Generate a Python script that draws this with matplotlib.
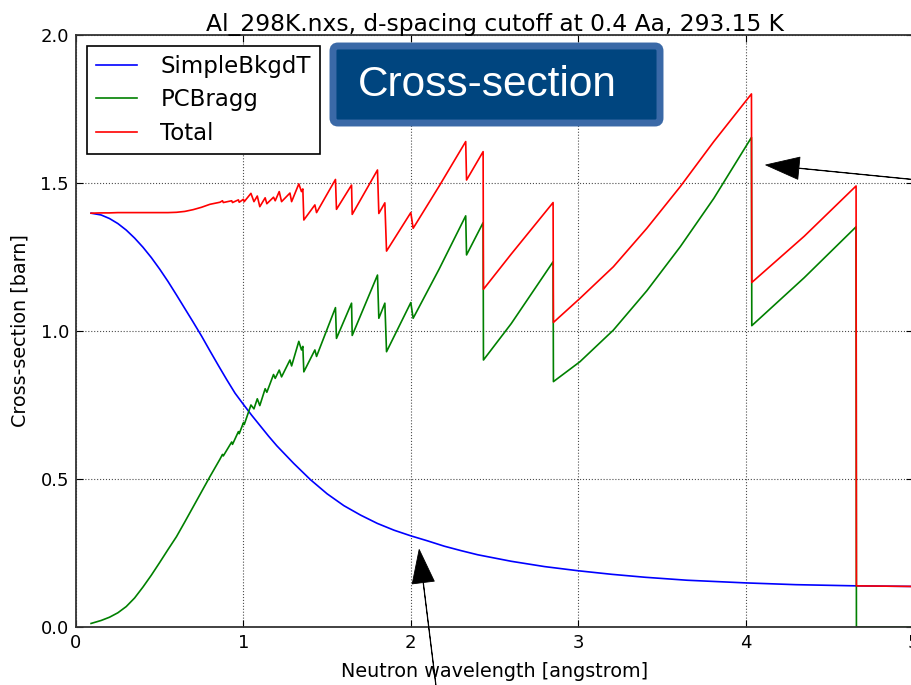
import matplotlib
matplotlib.use("Agg")
import matplotlib.pyplot as plt
from matplotlib.patches import FancyBboxPatch
from matplotlib.transforms import IdentityTransform

# SimpleBkgdT (blue)
bkgd_x = [0.09, 0.15, 0.20, 0.25, 0.30, 0.35, 0.40, 0.45, 0.50, 0.55, 0.60, 0.65, 0.70,
          0.75, 0.80, 0.85, 0.90, 0.95, 1.00, 1.05, 1.10, 1.15, 1.20, 1.30, 1.40, 1.50,
          1.60, 1.70, 1.80, 1.90, 2.00, 2.10, 2.20, 2.30, 2.40, 2.60, 2.80, 3.00, 3.20,
          3.40, 3.65, 4.00, 4.30, 4.66, 5.0]
bkgd_y = [1.398, 1.392, 1.380, 1.363, 1.341, 1.314, 1.283, 1.248, 1.209, 1.167, 1.122,
          1.076, 1.030, 0.983, 0.933, 0.884, 0.836, 0.790, 0.752, 0.715, 0.680, 0.645,
          0.612, 0.553, 0.498, 0.450, 0.410, 0.378, 0.350, 0.327, 0.308, 0.291, 0.273,
          0.258, 0.244, 0.222, 0.204, 0.190, 0.178, 0.168, 0.158, 0.149, 0.143, 0.139,
          0.137]

# PCBragg (green) and Total (red), sampled at the same wavelengths
lam = [0.09, 0.15, 0.20, 0.25, 0.30, 0.35, 0.40, 0.45, 0.50, 0.55, 0.60, 0.65, 0.70,
       0.75, 0.80, 0.86, 0.875, 0.88, 0.93, 0.935, 0.97, 0.975, 1.00, 1.005, 1.045,
       1.063, 1.083, 1.098, 1.13, 1.14, 1.18, 1.19, 1.214, 1.228, 1.278, 1.288, 1.331,
       1.347, 1.355, 1.361, 1.427, 1.437, 1.550, 1.556, 1.646, 1.650, 1.801, 1.809,
       1.845, 1.855, 2.000, 2.014, 2.17, 2.328, 2.333, 2.432, 2.434, 2.60, 2.850, 2.852,
       3.01, 3.21, 3.41, 3.61, 3.81, 4.035, 4.037, 4.35, 4.660, 4.662, 5.0]
bragg = [0.012, 0.022, 0.033, 0.048, 0.069, 0.098, 0.135, 0.175, 0.218, 0.262, 0.305,
         0.355, 0.406, 0.457, 0.508, 0.567, 0.583, 0.578, 0.625, 0.617, 0.660, 0.653,
         0.690, 0.684, 0.750, 0.737, 0.771, 0.748, 0.805, 0.793, 0.853, 0.840, 0.868,
         0.845, 0.902, 0.882, 0.965, 0.936, 0.948, 0.862, 0.936, 0.914, 1.079, 0.975,
         1.094, 0.985, 1.189, 1.043, 1.094, 0.930, 1.096, 1.043, 1.210, 1.389, 1.257,
         1.366, 0.902, 1.025, 1.234, 0.829, 0.896, 1.003, 1.136, 1.285, 1.448, 1.654,
         1.018, 1.180, 1.352, 0.0, 0.0]
total = [1.398, 1.399, 1.399, 1.400, 1.400, 1.400, 1.400, 1.400, 1.400, 1.400, 1.401,
         1.404, 1.410, 1.418, 1.428, 1.435, 1.440, 1.434, 1.440, 1.434, 1.443, 1.435,
         1.445, 1.437, 1.465, 1.437, 1.456, 1.420, 1.450, 1.430, 1.452, 1.440, 1.471,
         1.437, 1.466, 1.437, 1.497, 1.471, 1.480, 1.375, 1.426, 1.400, 1.512, 1.411,
         1.493, 1.394, 1.544, 1.397, 1.433, 1.270, 1.400, 1.347, 1.490, 1.640, 1.510,
         1.606, 1.141, 1.260, 1.434, 1.029, 1.110, 1.217, 1.347, 1.488, 1.640, 1.801,
         1.164, 1.320, 1.490, 0.139, 0.137]

fig = plt.figure(figsize=(9.12, 6.85), dpi=100)
ax = fig.add_axes([76 / 912, 58 / 685, 837 / 912, 592 / 685])

ax.plot(bkgd_x, bkgd_y, color="blue", lw=1.2, label="SimpleBkgdT")
ax.plot(lam, bragg, color="green", lw=1.2, label="PCBragg")
ax.plot(lam, total, color="red", lw=1.2, label="Total")

ax.set_xlim(0, 5)
ax.set_ylim(0, 2.0)
ax.set_xticks([0, 1, 2, 3, 4, 5])
ax.set_yticks([0.0, 0.5, 1.0, 1.5, 2.0])
ax.set_yticklabels(["0.0", "0.5", "1.0", "1.5", "2.0"])
ax.grid(True, color="black", linestyle=":", lw=0.8, alpha=0.7)
ax.tick_params(direction="in", length=5, labelsize=13, top=True, right=True, pad=5)
for s in ax.spines.values():
    s.set_linewidth(1.3)
    s.set_color("#333333")

ax.set_title("Al_298K.nxs, d-spacing cutoff at 0.4 Aa, 293.15 K", fontsize=16.8, pad=3)
ax.set_xlabel("Neutron wavelength [angstrom]", fontsize=13.8, labelpad=7)
ax.set_ylabel("Cross-section [barn]", fontsize=13.8, labelpad=8)

leg = ax.legend(loc="upper left", bbox_to_anchor=(11 / 837, 1 - 11 / 592), fontsize=16.5,
                fancybox=False, framealpha=1, edgecolor="black", handlelength=1.8,
                handletextpad=1.0, labelspacing=0.45, borderpad=0.4, borderaxespad=0)
leg.get_frame().set_linewidth(1.2)

# "Cross-section" badge, placed in pixels
badge = FancyBboxPatch((333, 685 - 123), 327, 77, boxstyle="round,pad=0,rounding_size=5",
                       facecolor="#00457f", edgecolor="#3a69a7", lw=5,
                       transform=IdentityTransform())
fig.add_artist(badge)
fig.text(487 / 912, 1 - 85 / 685, "Cross-section", color="white", fontsize=30.5,
         family="Liberation Sans", ha="center", va="center")

# arrows running in from outside the picture
ax.annotate("", xy=(2.05, 0.262), xytext=(2.205, -0.449), annotation_clip=False,
            arrowprops=dict(facecolor="black", edgecolor="black", width=0.3,
                            headwidth=16, headlength=24, shrink=0, lw=0.6))
ax.annotate("", xy=(4.12, 1.561), xytext=(5.516, 1.483), annotation_clip=False,
            arrowprops=dict(facecolor="black", edgecolor="black", width=0.3,
                            headwidth=16, headlength=24, shrink=0, lw=0.6))

fig.savefig("out.png", dpi=100)
